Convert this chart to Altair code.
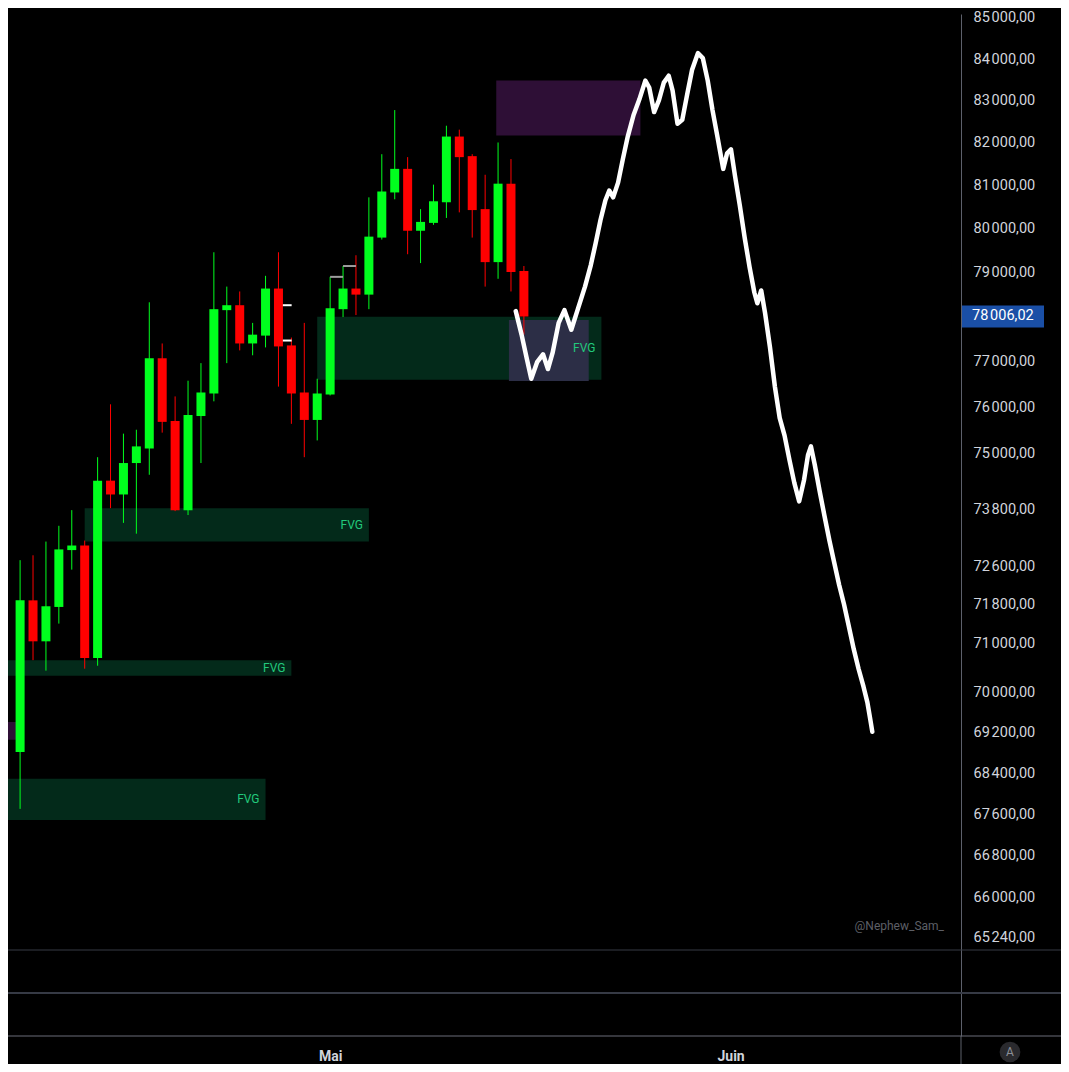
import altair as alt
import numpy as np
import pandas as pd

# ---------------- data ----------------
candle_start = "2025-04-07"
opens = [68820, 71890, 71048, 71754, 72937, 73033, 70710, 74408, 74113, 74786,
         75102, 77074, 75698, 73780, 75804, 76297, 78148, 78259, 77403, 77578,
         78635, 77359, 76319, 75719, 76276, 78170, 78635, 78498, 79796, 80839,
         81389, 79953, 80134, 80611, 82149, 81687, 80452, 79235, 81043, 79033]
highs = [72726, 72828, 73116, 73448, 73780, 73137, 74912, 76060, 75421, 75506,
         78325, 77403, 76233, 76578, 76966, 79460, 78679, 78569, 77862, 78923,
         79460, 77534, 77862, 76621, 78900, 79146, 79392, 80725, 81733, 82777,
         81664, 80452, 81021, 82405, 82312, 81733, 81251, 82009, 81618, 79146]
lows = [67705, 70664, 70451, 71411, 72528, 70491, 70551, 73822, 73510, 73282,
        74534, 75443, 73759, 73676, 74786, 76125, 76966, 77249, 77140, 77315,
        76448, 75634, 74912, 75274, 76254, 77993, 78038, 78170, 79751, 80680,
        79415, 79213, 80089, 80248, 80377, 79796, 78679, 78856, 78569, 77600]
closes = [71890, 71048, 71768, 72951, 73033, 70710, 74408, 74113, 74786, 75145,
          77074, 75677, 73780, 75826, 76319, 78170, 78259, 77403, 77599, 78635,
          77337, 76297, 75719, 76297, 78193, 78635, 78498, 79818, 80861, 81389,
          79953, 80157, 80634, 82149, 81664, 80430, 79235, 81043, 79011, 78006.02]

current_price = 78006.02

# hand-drawn projection path (days after 1 May, price)
path_day = [14.37, 14.82, 15.20, 15.57, 16.02, 16.48, 16.86, 17.23, 17.69, 18.14,
            18.67, 19.20, 19.73, 20.18, 20.55, 20.93, 21.31, 21.61, 21.91, 22.29,
            22.66, 23.04, 23.49, 23.94, 24.40, 24.70, 25.08, 25.45, 25.83, 26.21,
            26.51, 26.89, 27.26, 27.64, 28.02, 28.47, 28.85, 29.23, 29.60, 29.98,
            30.43, 30.73, 31.03, 31.34, 31.71, 32.09, 32.47, 32.84, 33.07, 33.37,
            33.67, 34.05, 34.43, 34.80, 35.18, 35.56, 35.93, 36.31, 36.69, 36.99,
            37.22, 37.52, 37.90, 38.27, 38.65, 39.03, 39.40, 39.78, 40.16, 40.54,
            40.91, 41.29, 41.59, 41.82, 41.97]
path_price = [78126, 77600, 77096, 76621, 76987, 77162, 76836, 77205, 77862, 78148,
              77709, 78193, 78679, 79168, 79661, 80202, 80657, 80884, 80725, 81067,
              81618, 82149, 82660, 83033, 83481, 83316, 82730, 83009, 83434, 83599,
              83245, 82451, 82544, 83151, 83741, 84143, 84024, 83481, 82777, 82149,
              81388, 81756, 81848, 81228, 80543, 79796, 79123, 78546, 78303, 78591,
              78082, 77315, 76448, 75762, 75379, 74849, 74366, 73967, 74429, 74954,
              75145, 74744, 74176, 73656, 73137, 72665, 72215, 71808, 71345, 70883,
              70485, 70127, 69812, 69459, 69224]

# FVG boxes (days after 1 May)
fvg_start = [-1, -19, -30, -30]
fvg_end = [21, 3, -3, -5]
fvg_top = [78000, 73822, 70664, 68293]
fvg_bottom = [76600, 73116, 70346, 67490]
fvg_label = ["FVG", "FVG", "FVG", "FVG"]

# purple zones
purple_start = [12.86, -30]
purple_end = [24.02, -24.32]
purple_top = [83482, 69420]
purple_bottom = [82172, 69067]

# lavender projection zone
lav_start = [13.84]
lav_end = [20.02]
lav_top = [77928]
lav_bottom = [76571]

# small marker lines
hi_start = [0, 1]
hi_end = [1, 2]
hi_price = [78900, 79146]
tick_start = [-3.66, -3.66]
tick_end = [-2.98, -2.98]
tick_price = [78259, 77468]

y_ticks = [85000, 84000, 83000, 82000, 81000, 80000, 79000, 77000, 76000, 75000,
           73800, 72600, 71800, 71000, 70000, 69200, 68400, 67600, 66800, 66000, 65240]
month_ticks = [0, 31]
month_labels = ["Mai", "Juin"]

# ---------------- frames ----------------
dates = pd.date_range(candle_start, periods=len(opens), freq="D")
day = ((dates - pd.Timestamp("2025-05-01")) / pd.Timedelta(days=1)).astype(float)
candles = pd.DataFrame({"day": day, "open": opens, "high": highs,
                        "low": lows, "close": closes})
up = candles[candles["close"] >= candles["open"]]
down = candles[candles["close"] < candles["open"]]

path = pd.DataFrame({"day": path_day, "price": path_price,
                     "seq": range(len(path_day))})
fvg = pd.DataFrame({"start": fvg_start, "end": fvg_end, "top": fvg_top,
                    "bottom": fvg_bottom, "label": fvg_label})
fvg["mid"] = np.sqrt(fvg["top"] * fvg["bottom"])
purple = pd.DataFrame({"start": purple_start, "end": purple_end,
                       "top": purple_top, "bottom": purple_bottom})
lav = pd.DataFrame({"start": lav_start, "end": lav_end,
                    "top": lav_top, "bottom": lav_bottom})
his = pd.DataFrame({"start": hi_start, "end": hi_end, "price": hi_price})
wticks = pd.DataFrame({"start": tick_start, "end": tick_end, "price": tick_price})
cur = pd.DataFrame({"price": [current_price]})

# ---------------- style ----------------
W, H = 953, 1022
GREEN = "#00ff1e"
RED = "#ff0000"
FVG_FILL = "#032a1a"
FVG_TEXT = "#22c97c"
AXIS_TXT = "#d1d4dc"
FONT = "Roboto"

xs = alt.Scale(domain=[-24.55, 48.45], nice=False, zero=False)
ys = alt.Scale(type="log", domain=[63424, 85096], nice=False)

fr_expr = "replace(replace(format(datum.value, ',.2f'), ',', '\u202f'), '.', ',')"

yaxis = alt.Axis(orient="right", values=y_ticks, labelExpr=fr_expr, labelAlign="left",
                 labelPadding=12, ticks=False, domain=True, domainColor="#5d606b",
                 grid=False, labelColor=AXIS_TXT, labelFont=FONT, labelFontSize=14.5,
                 labelOverlap=False, labelFlush=False, title=None)
xaxis = alt.Axis(values=month_ticks,
                 labelExpr="datum.value == 0 ? 'Mai' : 'Juin'",
                 domain=False, ticks=False, grid=False, labelPadding=13,
                 labelColor=AXIS_TXT, labelFont=FONT, labelFontSize=14,
                 labelFontWeight="bold", labelFlush=False, title=None)


def X(field):
    return alt.X(field, type="quantitative", scale=xs, title=None)


def Y(field):
    return alt.Y(field, type="quantitative", scale=ys, title=None)


# first layer carries the axes
base_axes = alt.Chart(cur).mark_point(opacity=0).encode(
    x=alt.X("xv:Q", scale=xs, axis=xaxis, title=None),
    y=alt.Y("price:Q", scale=ys, axis=yaxis, title=None),
).transform_calculate(xv="0")

fvg_rects = alt.Chart(fvg).mark_rect(color=FVG_FILL, clip=True).encode(
    x=X("start"), x2="end", y=Y("top"), y2="bottom")

purple_rects = alt.Chart(purple).mark_rect(color="#2e0f36", clip=True).encode(
    x=X("start"), x2="end", y=Y("top"), y2="bottom")

lav_rects = alt.Chart(lav).mark_rect(color="#2c2e46", clip=True).encode(
    x=X("start"), x2="end", y=Y("top"), y2="bottom")

fvg_text = alt.Chart(fvg).mark_text(align="right", baseline="middle", dx=-6,
                                    color=FVG_TEXT, font=FONT, fontSize=12).encode(
    x=X("end"), y=Y("mid"), text="label:N")

up_wicks = alt.Chart(up).mark_rule(strokeWidth=1, color=GREEN).encode(
    x=X("day"), y=Y("low"), y2="high")
down_wicks = alt.Chart(down).mark_rule(strokeWidth=1, color=RED).encode(
    x=X("day"), y=Y("low"), y2="high")
up_bodies = alt.Chart(up).mark_bar(size=9, color=GREEN).encode(
    x=X("day"), y=Y("open"), y2="close")
down_bodies = alt.Chart(down).mark_bar(size=9, color=RED).encode(
    x=X("day"), y=Y("open"), y2="close")

hi_lines = alt.Chart(his).mark_rule(color="#9e9e9e", strokeWidth=2).encode(
    x=X("start"), x2="end", y=Y("price"))

w_lines = alt.Chart(wticks).mark_rule(color="#ffffff", strokeWidth=2).encode(
    x=X("start"), x2="end", y=Y("price"))

path_line = alt.Chart(path).mark_line(color="#ffffff", strokeWidth=4.5,
                                      strokeCap="round", strokeJoin="round").encode(
    x=X("day"), y=Y("price"), order="seq:Q")

# pane separators and frame
sep1 = alt.Chart(cur).mark_rule(color="#363a45", strokeWidth=1).encode(
    x=alt.value(0), x2=alt.value(W + 100), y=alt.value(936))
sep2 = alt.Chart(cur).mark_rule(color="#363a45", strokeWidth=2).encode(
    x=alt.value(0), x2=alt.value(W + 100), y=alt.value(979))
sep3 = alt.Chart(cur).mark_rule(color="#6a6d78", strokeWidth=1).encode(
    x=alt.value(0), x2=alt.value(W + 100), y=alt.value(H))
vline = alt.Chart(cur).mark_rule(color="#5d606b", strokeWidth=1).encode(
    x=alt.value(W), y=alt.value(H), y2=alt.value(H + 30))

# current price label
price_box = alt.Chart(cur).mark_rule(color="#1a4fa6", strokeWidth=22, strokeCap="butt").encode(
    x=alt.value(W + 1), x2=alt.value(W + 83), y=Y("price"))
price_txt = alt.Chart(cur).transform_calculate(
    label="replace(replace(format(datum.price, ',.2f'), ',', '\u202f'), '.', ',')"
).mark_text(align="left", baseline="middle", color="#ffffff", font=FONT,
            fontSize=14.5).encode(x=alt.value(W + 11), y=Y("price"), text="label:N")

watermark = alt.Chart(cur).mark_text(text="@Nephew_Sam_", align="right", baseline="middle",
                                     color="#5d5f66", font=FONT, fontSize=12).encode(
    x=alt.value(W - 17), y=alt.value(912))

a_circle = alt.Chart(cur).mark_point(filled=True, size=430, color="#2a2a2e", opacity=1).encode(
    x=alt.value(W + 49), y=alt.value(H + 16))
a_text = alt.Chart(cur).mark_text(text="A", align="center", baseline="middle",
                                  color="#8c8f98", font=FONT, fontSize=12).encode(
    x=alt.value(W + 49), y=alt.value(H + 16))

chart = alt.layer(
    base_axes, fvg_rects, purple_rects, lav_rects, fvg_text,
    up_wicks, down_wicks, up_bodies, down_bodies, hi_lines, w_lines, path_line,
    sep1, sep2, sep3, vline, price_box, price_txt, watermark, a_circle, a_text
).properties(
    width=W, height=H,
    autosize=alt.AutoSizeParams(type="none"),
    padding={"left": 0, "top": 6, "right": 100, "bottom": 28},
    background="#000000",
).configure_view(stroke=None)

chart.save("out.html", embed_options={"renderer": "svg", "actions": False})
